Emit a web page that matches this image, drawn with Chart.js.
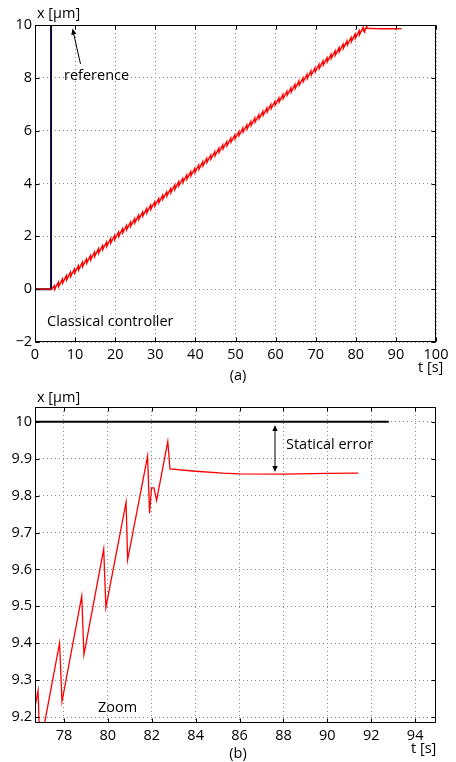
<!DOCTYPE html>
<html><head><meta charset="utf-8">
<script src="https://cdn.jsdelivr.net/npm/chart.js@4/dist/chart.umd.min.js"></script>
<style>
html,body{margin:0;padding:0;background:#fff;}
#wrap{position:relative;width:456px;height:762px;overflow:hidden;}
canvas{position:absolute;left:0;}
#c1{top:0;} #c2{top:385px;}
</style></head><body>
<div id="wrap"><canvas id="c1" width="456" height="385"></canvas><canvas id="c2" width="456" height="377"></canvas></div>
<script>
const FONT = '"Open Sans", "DejaVu Sans", sans-serif';

// ---- tick values / labels ----
const topXTicks = [0, 10, 20, 30, 40, 50, 60, 70, 80, 90, 100];
const topYTicks = [-2, 0, 2, 4, 6, 8, 10];
const topYLabels = ['−2', '0', '2', '4', '6', '8', '10'];
const zoomXTicks = [78, 80, 82, 84, 86, 88, 90, 92, 94];
const zoomYTicks = [9.2, 9.3, 9.4, 9.5, 9.6, 9.7, 9.8, 9.9, 10];
const zoomYLabels = ['9.2', '9.3', '9.4', '9.5', '9.6', '9.7', '9.8', '9.9', '10'];

// ---- reference signal (step) ----
const refTime = [0, 4, 4, 92.8];
const refPos  = [0, 0, 10, 10];

// ---- measured response of the classical controller (sawtooth ramp) ----
const respTime = [
  0, 4.2,
  4.82, 4.9, 5.82, 5.9, 6.82, 6.9, 7.82, 7.9, 8.82, 8.9, 9.82, 9.9,
  10.82, 10.9, 11.82, 11.9, 12.82, 12.9, 13.82, 13.9, 14.82, 14.9,
  15.82, 15.9, 16.82, 16.9, 17.82, 17.9, 18.82, 18.9, 19.82, 19.9,
  20.82, 20.9, 21.82, 21.9, 22.82, 22.9, 23.82, 23.9, 24.82, 24.9,
  25.82, 25.9, 26.82, 26.9, 27.82, 27.9, 28.82, 28.9, 29.82, 29.9,
  30.82, 30.9, 31.82, 31.9, 32.82, 32.9, 33.82, 33.9, 34.82, 34.9,
  35.82, 35.9, 36.82, 36.9, 37.82, 37.9, 38.82, 38.9, 39.82, 39.9,
  40.82, 40.9, 41.82, 41.9, 42.82, 42.9, 43.82, 43.9, 44.82, 44.9,
  45.82, 45.9, 46.82, 46.9, 47.82, 47.9, 48.82, 48.9, 49.82, 49.9,
  50.82, 50.9, 51.82, 51.9, 52.82, 52.9, 53.82, 53.9, 54.82, 54.9,
  55.82, 55.9, 56.82, 56.9, 57.82, 57.9, 58.82, 58.9, 59.82, 59.9,
  60.82, 60.9, 61.82, 61.9, 62.82, 62.9, 63.82, 63.9, 64.82, 64.9,
  65.82, 65.9, 66.82, 66.9, 67.82, 67.9, 68.82, 68.9, 69.82, 69.9,
  70.82, 70.9, 71.82, 71.9, 72.82, 72.9, 73.82, 73.9, 74.82, 74.9,
  75.82, 75.9, 76.82, 76.9,
  77.8, 77.91, 78.81, 78.91, 79.81, 79.91, 80.83, 80.9, 81.81, 81.9,
  81.99, 82.1, 82.22, 82.73, 82.83, 84.0, 85.24, 86.0, 88.0, 90.0, 91.41
];
const respPos = [
  0, 0,
  0.13, 0.00, 0.26, 0.10, 0.38, 0.23, 0.51, 0.35, 0.64, 0.48, 0.76, 0.61,
  0.89, 0.73, 1.02, 0.86, 1.14, 0.99, 1.27, 1.11, 1.40, 1.24,
  1.53, 1.37, 1.65, 1.50, 1.78, 1.62, 1.91, 1.75, 2.03, 1.88,
  2.16, 2.00, 2.29, 2.13, 2.41, 2.26, 2.54, 2.38, 2.67, 2.51,
  2.80, 2.64, 2.92, 2.77, 3.05, 2.89, 3.18, 3.02, 3.30, 3.15,
  3.43, 3.27, 3.56, 3.40, 3.68, 3.53, 3.81, 3.65, 3.94, 3.78,
  4.07, 3.91, 4.19, 4.04, 4.32, 4.16, 4.45, 4.29, 4.57, 4.42,
  4.70, 4.54, 4.83, 4.67, 4.95, 4.80, 5.08, 4.92, 5.21, 5.05,
  5.34, 5.18, 5.46, 5.31, 5.59, 5.43, 5.72, 5.56, 5.84, 5.69,
  5.97, 5.81, 6.10, 5.94, 6.22, 6.07, 6.35, 6.19, 6.48, 6.32,
  6.61, 6.45, 6.73, 6.58, 6.86, 6.70, 6.99, 6.83, 7.11, 6.96,
  7.24, 7.08, 7.37, 7.21, 7.49, 7.34, 7.62, 7.46, 7.75, 7.59,
  7.88, 7.72, 8.00, 7.85, 8.13, 7.97, 8.26, 8.10, 8.38, 8.23,
  8.51, 8.35, 8.64, 8.48, 8.76, 8.61, 8.89, 8.73, 9.02, 8.86,
  9.145, 8.988, 9.272, 9.115,
  9.401, 9.242, 9.528, 9.369, 9.655, 9.497, 9.782, 9.626, 9.907, 9.752,
  9.821, 9.821, 9.787, 9.947, 9.872, 9.866, 9.861, 9.859, 9.858, 9.860, 9.861
];

function pts(xs, ys) { return xs.map((x, i) => ({ x: x, y: ys[i] })); }

function drawArrowHead(ctx, x1, y1, x2, y2, len, half) {
  const a = Math.atan2(y2 - y1, x2 - x1);
  const c = Math.cos(a), s = Math.sin(a);
  ctx.beginPath();
  ctx.moveTo(x2, y2);
  ctx.lineTo(x2 - len * c + half * s, y2 - len * s - half * c);
  ctx.lineTo(x2 - len * c - half * s, y2 - len * s + half * c);
  ctx.closePath();
  ctx.fill();
}
function drawArrow(ctx, x1, y1, x2, y2, both) {
  const len = 6, half = 2.6;
  const a = Math.atan2(y2 - y1, x2 - x1);
  const c = Math.cos(a), s = Math.sin(a);
  ctx.beginPath();
  ctx.moveTo(both ? x1 + c * len * 0.8 : x1, both ? y1 + s * len * 0.8 : y1);
  ctx.lineTo(x2 - c * len * 0.8, y2 - s * len * 0.8);
  ctx.stroke();
  drawArrowHead(ctx, x1, y1, x2, y2, len, half);
  if (both) drawArrowHead(ctx, x2, y2, x1, y1, len, half);
}

function framePlugin(cfg) {
  return {
    id: 'frame',
    afterDraw(chart) {
      const ctx = chart.ctx, a = chart.chartArea, xs = chart.scales.x, ys = chart.scales.y;
      ctx.save();
      ctx.strokeStyle = '#000';
      ctx.lineWidth = 1;
      const L = Math.round(a.left) + 0.5, R = Math.round(a.right) - 0.5;
      const T = Math.round(a.top) + 0.5, B = Math.round(a.bottom) - 0.5;
      ctx.strokeRect(L, T, R - L, B - T);
      ctx.beginPath();
      cfg.xTicks.forEach(v => {
        const px = Math.round(xs.getPixelForValue(v)) + 0.5;
        ctx.moveTo(px, B); ctx.lineTo(px, B - 4);
        ctx.moveTo(px, T); ctx.lineTo(px, T + 4);
      });
      cfg.yTicks.forEach(v => {
        const py = Math.round(ys.getPixelForValue(v)) + 0.5;
        ctx.moveTo(L, py); ctx.lineTo(L + 4, py);
        ctx.moveTo(R, py); ctx.lineTo(R - 4, py);
      });
      ctx.stroke();
      ctx.fillStyle = '#000';
      ctx.font = '14.5px ' + FONT;
      ctx.textBaseline = 'middle';
      cfg.texts.forEach(t => { ctx.textAlign = t.align || 'left'; ctx.fillText(t.s, t.x, t.y); });
      ctx.lineWidth = 1;
      cfg.arrows.forEach(r => drawArrow(ctx, r[0], r[1], r[2], r[3], r[4]));
      ctx.restore();
    }
  };
}

function axisCfg(min, max, tickVals, labels, isX, fitSize) {
  return {
    type: 'linear', min: min, max: max,
    afterBuildTicks: s => { s.ticks = tickVals.map(v => ({ value: v })); },
    afterFit: s => { if (isX) s.height = fitSize; else s.width = fitSize; },
    grid: { color: '#8c8c8c', lineWidth: 1, drawTicks: false },
    border: { display: false, dash: [1, 3] },
    ticks: {
      autoSkip: false, maxRotation: 0, color: '#000', padding: isX ? 4 : 3,
      font: { family: FONT, size: 14.5 },
      callback: (v, i) => labels[i]
    }
  };
}

const baseOpts = (pad, xAxis, yAxis) => ({
  responsive: false, animation: false, events: [],
  layout: { padding: pad },
  plugins: { legend: { display: false }, tooltip: { enabled: false } },
  scales: { x: xAxis, y: yAxis }
});

new Chart(document.getElementById('c1'), {
  type: 'line',
  data: { datasets: [
    { data: pts(respTime, respPos), borderColor: '#ff0000', borderWidth: 1.4, pointRadius: 0, tension: 0 },
    { data: pts(refTime, refPos), borderColor: '#0c0c3a', borderWidth: 2, pointRadius: 0, tension: 0 }
  ] },
  options: baseOpts({ left: 0, right: 20, top: 25, bottom: 0 },
    axisCfg(0, 100, topXTicks, topXTicks.map(String), true, 43),
    axisCfg(-2, 10, topYTicks, topYLabels, false, 35)),
  plugins: [framePlugin({
    xTicks: topXTicks, yTicks: topYTicks,
    texts: [
      { s: 'x [µm]', x: 37, y: 14 },
      { s: 'reference', x: 64, y: 76 },
      { s: 'Classical controller', x: 47, y: 322 },
      { s: 't [s]', x: 418, y: 368 },
      { s: '(a)', x: 238, y: 376, align: 'center' }
    ],
    arrows: [[80.5, 64, 72.5, 28.5, false]]
  })]
});

new Chart(document.getElementById('c2'), {
  type: 'line',
  data: { datasets: [
    { data: pts(respTime, respPos), borderColor: '#ff0000', borderWidth: 1.3, pointRadius: 0, tension: 0 },
    { data: pts(refTime, refPos), borderColor: '#000000', borderWidth: 2, pointRadius: 0, tension: 0 }
  ] },
  options: baseOpts({ left: 0, right: 20, top: 22, bottom: 0 },
    axisCfg(76.68, 94.95, zoomXTicks, zoomXTicks.map(String), true, 39),
    axisCfg(9.184, 10.04, zoomYTicks, zoomYLabels, false, 35)),
  plugins: [framePlugin({
    xTicks: zoomXTicks, yTicks: zoomYTicks,
    texts: [
      { s: 'x [µm]', x: 37, y: 13 },
      { s: 'Statical error', x: 286, y: 60 },
      { s: 'Zoom', x: 98, y: 323 },
      { s: 't [s]', x: 411, y: 364 },
      { s: '(b)', x: 238, y: 369, align: 'center' }
    ],
    arrows: [[275, 40, 275, 87, true]]
  })]
});
</script>
</body></html>
